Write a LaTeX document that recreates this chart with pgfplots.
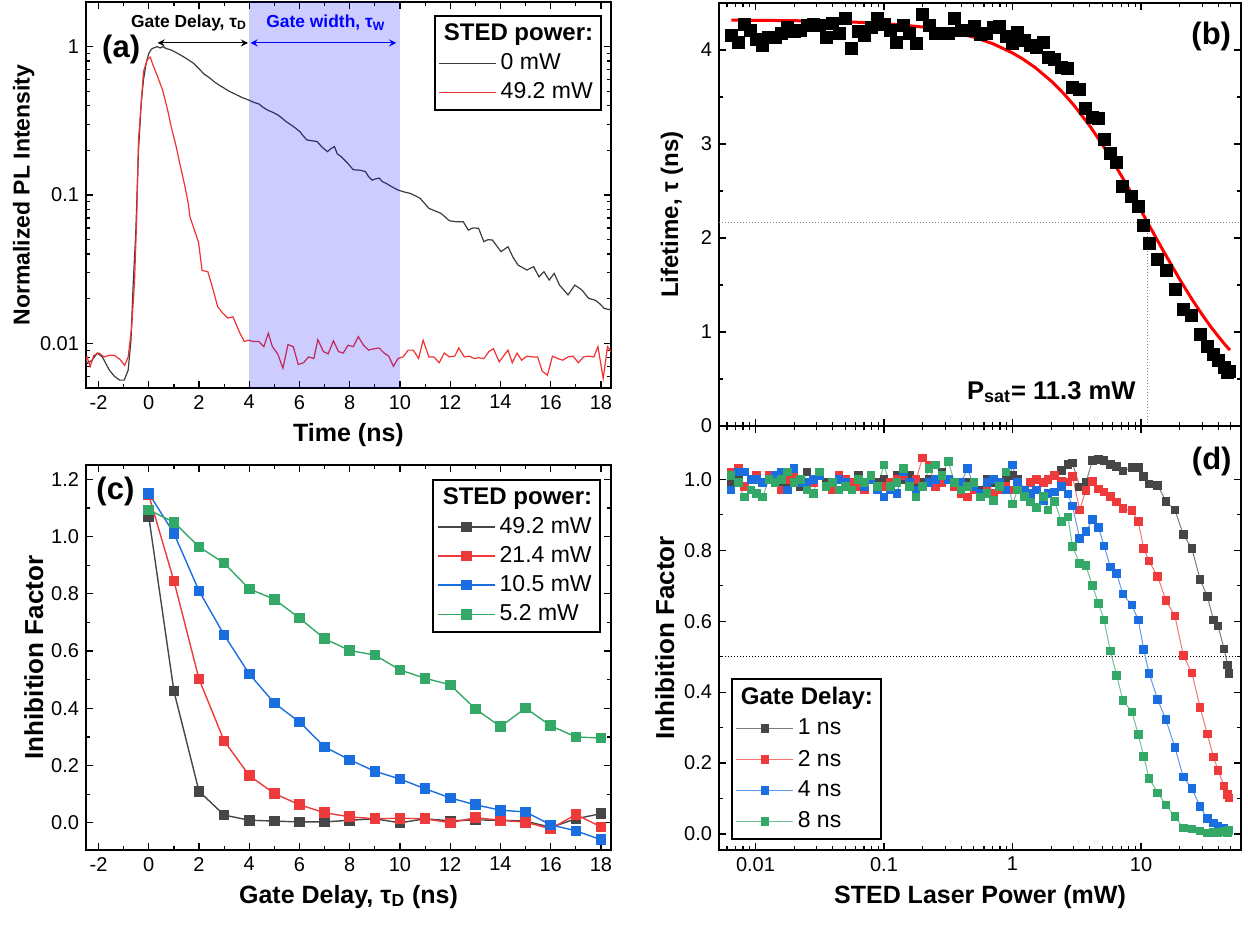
\documentclass[border=0pt]{standalone}
\usepackage{pgfplots}
\pgfplotsset{compat=1.18}
\usepackage{pgfplotstable}
\usepackage{fontspec}
\setmainfont{Liberation Sans}
\definecolor{cblk}{RGB}{70,70,70}
\definecolor{cred}{RGB}{238,58,58}
\definecolor{cblu}{RGB}{26,110,224}
\definecolor{cgrn}{RGB}{52,168,102}
\definecolor{ared}{RGB}{240,50,50}
\definecolor{ablk}{RGB}{60,60,60}
\newcommand{\tickfont}{\fontsize{10}{12}\selectfont}
\newcommand{\legfont}{\fontsize{11.5}{13.5}\selectfont}
\newcommand{\legtitle}{\bfseries\fontsize{12}{14}\selectfont}
\newcommand{\panfont}{\bfseries\fontsize{15.5}{18}\selectfont}

\pgfplotstableread{
P tau d1 d2 d4 d8
0.00646 4.154 0.99 1.02 0.97 1.01
0.00735 4.083 1.01 1.03 1.02 0.99
0.00818 4.270 0.98 0.98 1.02 0.95
0.00920 4.213 1.00 1.00 1.00 0.97
0.01014 4.108 1.00 1.01 1.00 0.96
0.01138 4.048 0.99 0.99 0.99 0.95
0.01271 4.129 1.00 1.01 1.00 1.00
0.01416 4.136 1.01 1.00 1.01 0.99
0.01589 4.178 0.99 0.97 1.02 1.00
0.01774 4.242 0.98 1.00 0.97 1.02
0.01995 4.200 1.00 1.01 1.03 0.99
0.02239 4.207 0.98 1.00 0.99 1.00
0.02512 4.260 1.02 0.98 0.99 0.97
0.02818 4.270 0.99 0.99 1.00 0.96
0.03162 4.260 1.01 1.01 1.01 1.02
0.03548 4.136 0.99 0.98 0.98 0.98
0.03981 4.278 0.99 0.97 0.99 0.99
0.04467 4.172 1.00 1.01 1.00 0.97
0.05012 4.331 1.00 1.00 0.99 0.98
0.05623 4.019 0.98 0.99 0.97 0.97
0.06310 4.200 1.01 0.98 1.00 1.00
0.07079 4.154 0.99 0.97 0.98 0.99
0.07943 4.240 1.00 1.00 1.00 1.01
0.08913 4.331 0.99 0.98 0.97 0.98
0.1000 4.270 1.00 0.98 0.95 1.04
0.1122 4.213 0.98 0.99 0.97 0.98
0.1259 4.083 1.01 1.00 0.96 0.99
0.1413 4.260 1.00 1.01 1.02 1.03
0.1585 4.172 1.01 0.99 0.99 0.98
0.1778 4.066 0.98 1.00 0.97 0.95
0.1995 4.377 0.99 1.06 0.98 0.98
0.2239 4.260 1.00 1.04 0.99 1.03
0.2512 4.172 0.99 0.98 1.00 1.04
0.2818 4.172 1.02 0.99 1.01 1.01
0.3162 4.172 1.00 1.00 1.00 1.05
0.3548 4.331 0.98 0.98 0.99 0.99
0.3981 4.207 0.97 0.96 0.99 0.97
0.4467 4.213 0.99 0.95 1.03 0.98
0.5012 4.249 0.98 0.97 0.98 0.99
0.5623 4.164 0.97 0.96 0.96 0.95
0.6310 4.172 1.00 0.98 0.99 0.96
0.7079 4.240 0.99 0.96 1.00 0.94
0.7943 4.250 0.98 0.97 0.99 0.98
0.8913 4.143 1.00 0.98 0.97 1.02
1.000 4.066 1.01 0.97 1.04 0.93
1.096 4.189 1.00 0.99 0.99 0.97
1.245 4.100 0.97 0.97 0.97 0.952
1.380 4.048 0.99 0.99 0.96 0.936
1.542 4.030 1.00 1.00 0.97 0.920
1.750 4.083 0.99 0.99 0.94 0.952
1.892 3.917 1.00 1.00 0.96 0.913
2.123 3.896 1.01 1.011 0.964 0.938
2.415 3.818 1.025 0.995 0.980 0.880
2.698 3.800 1.041 0.992 0.958 0.894
2.931 3.600 1.046 1.008 0.924 0.811
3.334 3.578 0.978 0.913 0.833 0.762
3.724 3.376 0.990 0.969 0.852 0.756
4.178 3.287 1.052 0.994 0.886 0.701
4.667 3.270 1.055 0.972 0.864 0.650
5.164 3.048 1.052 0.964 0.812 0.603
5.768 2.899 1.041 0.952 0.753 0.516
6.471 2.804 1.035 0.936 0.734 0.447
7.228 2.553 1.023 0.917 0.676 0.377
8.492 2.446 1.033 0.911 0.645 0.344
9.528 2.333 1.033 0.880 0.603 0.280
10.50 2.139 1.008 0.805 0.520 0.219
11.56 1.945 0.986 0.769 0.453 0.156
13.49 1.775 0.983 0.725 0.379 0.116
15.63 1.651 0.938 0.659 0.322 0.082
18.37 1.457 0.913 0.614 0.244 0.049
21.33 1.245 0.844 0.504 0.161 0.017
24.89 1.174 0.805 0.454 0.128 0.014
28.84 0.972 0.717 0.357 0.078 0.008
32.81 0.848 0.670 0.282 0.043 0.003
36.64 0.760 0.603 0.217 0.031 0.005
39.81 0.700 0.586 0.179 0.022 0.005
44.36 0.619 0.521 0.135 0.015 0.007
47.32 0.566 0.476 0.112 nan 0.004
48.31 0.580 0.453 0.102 nan 0.010
}\dtab

\pgfplotstableread{
x k r b g
0 1.069 1.145 1.151 1.093
1 0.460 0.845 1.011 1.050
2 0.110 0.502 0.810 0.964
3 0.027 0.286 0.656 0.907
4 0.009 0.165 0.520 0.817
5 0.006 0.102 0.418 0.781
6 0.003 0.063 0.352 0.715
7 0.003 0.035 0.265 0.643
8 0.009 0.021 0.220 0.602
9 0.014 0.014 0.180 0.586
10 0.000 0.016 0.153 0.534
11 0.014 0.014 0.119 0.505
12 0.007 0.000 0.087 0.482
13 0.010 0.018 0.063 0.398
14 0.009 0.009 0.044 0.336
15 0.006 0.002 0.038 0.401
16 -0.016 -0.021 -0.007 0.339
17 0.014 0.029 -0.028 0.300
18 0.032 -0.014 -0.059 0.296
}\ctab

\pgfplotsset{
  myaxis/.style={
    scale only axis,
    anchor=south west,
    tick align=inside,
    major tick length=3.5pt,
    minor tick length=2pt,
    every tick/.style={black, line width=0.6pt},
    axis line style={line width=0.8pt},
    ticklabel style={font=\tickfont},
    /pgf/number format/assume math mode=true,
    xlabel style={font=\bfseries\fontsize{12.5}{15}\selectfont},
    ylabel style={font=\bfseries\fontsize{13}{15}\selectfont},
    legend cell align=left,
    legend style={draw=black, line width=0.9pt, fill=white, font=\legfont,
      inner xsep=2pt, inner ysep=2pt, row sep=1pt},
    legend image code/.code={\draw[mark repeat=2,mark phase=2,##1] plot coordinates {(0cm,0cm) (0.5cm,0cm) (1cm,0cm)};},
  },
}

\begin{document}
\begin{tikzpicture}
\useasboundingbox (0,0) rectangle (624pt,463pt);

% ---------------- (a)
\begin{axis}[myaxis, at={(43pt,269pt)}, width=262.5pt, height=193pt,
  xmin=-2.5, xmax=18.4, ymode=log, ymin=0.005, ymax=2,
  xtick={-2,0,2,4,6,8,10,12,14,16,18}, minor x tick num=1,
  log ticks with fixed point,
  xlabel={Time (ns)}, ylabel={Normalized PL Intensity},
  ylabel style={font=\bfseries\fontsize{11.5}{13}\selectfont},
  ylabel shift=-4pt,
  legend style={at={(0.983,0.966)}, anchor=north east},
]
\addlegendimage{empty legend}\addlegendentry{\hspace*{-1cm}\legtitle STED power:}
\addplot[ablk, line width=0.6pt] coordinates {
(-2.5,0.0080) (-2.46,0.0073) (-2.26,0.0077) (-2.05,0.0086) (-1.85,0.0081) (-1.57,0.0066)
(-1.37,0.0060) (-1.16,0.00565) (-0.98,0.00565) (-0.82,0.0066) (-0.71,0.0105) (-0.62,0.0255)
(-0.52,0.055) (-0.41,0.2) (-0.3,0.42) (-0.21,0.60) (-0.1,0.78) (0.0,0.9) (0.1,0.96)
(0.16,0.975) (0.34,1.0) (0.45,0.98) (0.55,1.0) (0.7,0.97) (0.89,0.95) (1.1,0.91)
(1.37,0.857) (1.6,0.81) (1.78,0.773) (2.0,0.71) (2.19,0.655) (2.4,0.62) (2.6,0.581)
(2.8,0.55) (3.01,0.524) (3.2,0.50) (3.42,0.48) (3.7,0.455) (3.97,0.437) (4.2,0.42)
(4.38,0.411) (4.55,0.39) (4.72,0.374) (4.95,0.36) (5.13,0.347) (5.3,0.33) (5.47,0.312)
(5.75,0.29) (6.02,0.267) (6.15,0.25) (6.29,0.235) (6.5,0.232) (6.7,0.229) (6.9,0.21)
(7.11,0.196) (7.25,0.205) (7.39,0.212) (7.5,0.19) (7.66,0.181) (7.9,0.165) (8.14,0.148)
(8.4,0.147) (8.62,0.144) (8.75,0.133) (8.89,0.126) (9.0,0.128) (9.17,0.13) (9.3,0.123)
(9.44,0.12) (9.7,0.113) (9.92,0.108) (10.15,0.105) (10.4,0.1026) (10.6,0.099)
(10.8,0.095) (11.15,0.0813) (11.4,0.078) (11.63,0.0753) (11.97,0.067) (12.25,0.066)
(12.52,0.066) (12.72,0.058) (12.9,0.060) (13.13,0.0596) (13.34,0.0484) (13.5,0.050)
(13.68,0.0497) (14.02,0.0415) (14.3,0.0448) (14.5,0.038) (14.7,0.0337) (15.05,0.0312)
(15.32,0.0329) (15.53,0.0281) (15.73,0.0304) (15.94,0.0267) (16.14,0.0296) (16.35,0.0247)
(16.69,0.0212) (16.96,0.0247) (17.24,0.0229) (17.51,0.0201) (17.78,0.0195) (17.95,0.0185)
(18.13,0.0172) (18.4,0.0168)
};
\addlegendentry{0 mW}
\addplot[ared, line width=0.6pt] coordinates {
(-2.5,0.0078) (-2.46,0.0081) (-2.33,0.0070) (-2.19,0.0083) (-1.98,0.0086) (-1.78,0.0081)
(-1.57,0.0083) (-1.37,0.0083) (-1.15,0.0078) (-0.96,0.0071) (-0.82,0.0081) (-0.68,0.013)
(-0.57,0.0255) (-0.48,0.071) (-0.41,0.235) (-0.21,0.68) (-0.07,0.81) (0.0,0.835)
(0.06,0.85) (0.14,0.773) (0.3,0.66) (0.55,0.51) (0.75,0.374) (0.89,0.289) (1.09,0.212)
(1.23,0.164) (1.44,0.114) (1.57,0.088) (1.64,0.071) (1.98,0.048) (2.12,0.031) (2.35,0.0304)
(2.53,0.024) (2.74,0.0177) (2.94,0.016) (3.15,0.0148) (3.35,0.0151) (3.63,0.0117)
(3.8,0.0103) (3.97,0.0105) (4.17,0.0103) (4.38,0.0103) (4.58,0.0095) (4.76,0.0117)
(4.92,0.0095) (5.13,0.0085) (5.34,0.0068) (5.54,0.0098) (5.75,0.0095) (5.95,0.0072)
(6.16,0.0074) (6.36,0.0081) (6.57,0.0079) (6.73,0.0106) (6.95,0.0088) (7.14,0.0085)
(7.35,0.0104) (7.55,0.0088) (7.74,0.0086) (7.93,0.0097) (8.14,0.0095) (8.34,0.0111)
(8.55,0.0097) (8.75,0.009) (8.96,0.0092) (9.17,0.0093) (9.37,0.0086) (9.55,0.0082)
(9.74,0.0070) (9.92,0.0079) (10.12,0.0081) (10.33,0.009) (10.53,0.009) (10.74,0.0079)
(10.92,0.0105) (11.15,0.0081) (11.35,0.0081) (11.56,0.0074) (11.76,0.0086) (11.97,0.0081)
(12.18,0.0082) (12.34,0.0093) (12.56,0.0081) (12.75,0.0082) (12.96,0.0079) (13.13,0.008)
(13.34,0.0079) (13.54,0.0088) (13.72,0.0092) (13.95,0.0075) (14.12,0.0082) (14.3,0.009)
(14.47,0.0074) (14.66,0.0086) (14.84,0.0077) (15.05,0.0082) (15.29,0.0081) (15.48,0.0081)
(15.66,0.0065) (15.87,0.0061) (16.07,0.0082) (16.28,0.0079) (16.48,0.0077) (16.69,0.0081)
(16.89,0.0082) (17.1,0.0074) (17.31,0.0081) (17.51,0.0082) (17.72,0.0081) (17.88,0.0095)
(18.09,0.0058) (18.26,0.0095) (18.4,0.0088)
};
\addlegendentry{49.2 mW}
\fill[blue, opacity=0.2] (axis cs:4,0.005) rectangle (axis cs:10,2);
\draw[<->, >=stealth, line width=0.6pt] (axis cs:0.35,1.06) -- (axis cs:3.95,1.06);
\draw[<->, >=stealth, line width=0.6pt, blue] (axis cs:4.05,1.06) -- (axis cs:9.85,1.06);
\node[font=\bfseries\fontsize{8.7}{10}\selectfont] at (axis cs:1.6,1.445) {Gate Delay, τ\textsubscript{D}};
\node[font=\bfseries\fontsize{8.7}{10}\selectfont, text=blue] at (axis cs:7.05,1.445) {Gate width, τ\textsubscript{W}};
\node[font=\panfont] at (rel axis cs:0.067,0.876) {(a)};
\end{axis}

% ---------------- (b)
\begin{axis}[myaxis, at={(359.5pt,250pt)}, width=261pt, height=211.5pt,
  xmode=log, xmin=0.0052, xmax=60, ymin=0, ymax=4.5,
  ytick={0,1,2,3,4}, minor y tick num=1, xticklabels={},
  ylabel={Lifetime, τ (ns)},
  ylabel style={font=\bfseries\fontsize{12}{14}\selectfont},
  ylabel shift=2pt,
]
\draw[densely dotted, gray, line width=0.5pt] (axis cs:0.0052,2.163) -- (axis cs:60,2.163);
\draw[densely dotted, gray, line width=0.5pt] (axis cs:11.3,0) -- (axis cs:11.3,2.163);
\addplot[only marks, mark=square*, mark size=3pt, black] table[x=P, y=tau] {\dtab};
\addplot[red, line width=1.5pt] coordinates {
(0.0065,4.317) (0.01,4.316) (0.02,4.312) (0.05,4.301) (0.1,4.282) (0.2,4.245) (0.3,4.208)
(0.5,4.137) (0.7,4.068) (1,3.969) (1.2,3.905) (1.5,3.814) (2,3.670) (2.5,3.537) (3,3.414)
(4,3.191) (5,2.995) (6,2.822) (7,2.667) (8,2.529) (9,2.405) (10,2.292) (12,2.095)
(15,1.857) (20,1.560) (25,1.345) (30,1.182) (35,1.054) (40,0.952) (45,0.867) (49.2,0.807)
};
\node[anchor=east, font=\bfseries\fontsize{12.8}{15}\selectfont] at (axis cs:10.3,0.36) {P\textsubscript{sat}= 11.3 mW};
\node[font=\panfont] at (rel axis cs:0.943,0.92) {(b)};
\end{axis}

% ---------------- (c)
\begin{axis}[myaxis, at={(43pt,38pt)}, width=262.5pt, height=192.5pt,
  xmin=-2.5, xmax=18.4, ymin=-0.095, ymax=1.25,
  xtick={-2,0,2,4,6,8,10,12,14,16,18}, minor x tick num=1,
  ytick={0,0.2,0.4,0.6,0.8,1.0,1.2}, minor y tick num=1,
  yticklabel style={/pgf/number format/.cd, fixed, fixed zerofill, precision=1},
  xlabel={Gate Delay, τ\textsubscript{D} (ns)}, ylabel={Inhibition Factor},
  ylabel shift=-3pt,
  legend style={at={(0.981,0.964)}, anchor=north east},
]
\addlegendimage{empty legend}\addlegendentry{\hspace*{-1cm}\legtitle STED power:}
\addplot[cblk, line width=0.7pt, mark=square*, mark size=2.3pt, mark options={solid, fill=cblk}] table[x=x, y=k] {\ctab};
\addlegendentry{49.2 mW}
\addplot[cred, line width=0.7pt, mark=square*, mark size=2.3pt, mark options={solid, fill=cred}] table[x=x, y=r] {\ctab};
\addlegendentry{21.4 mW}
\addplot[cblu, line width=0.7pt, mark=square*, mark size=2.3pt, mark options={solid, fill=cblu}] table[x=x, y=b] {\ctab};
\addlegendentry{10.5 mW}
\addplot[cgrn, line width=0.7pt, mark=square*, mark size=2.3pt, mark options={solid, fill=cgrn}] table[x=x, y=g] {\ctab};
\addlegendentry{5.2 mW}
\node[font=\panfont] at (rel axis cs:0.056,0.93) {(c)};
\end{axis}

% ---------------- (d)
\begin{axis}[myaxis, at={(359.5pt,38pt)}, width=261pt, height=212pt,
  xmode=log, xmin=0.0052, xmax=60, ymin=-0.045, ymax=1.15,
  log ticks with fixed point,
  ytick={0,0.2,0.4,0.6,0.8,1.0}, minor y tick num=1,
  yticklabel style={/pgf/number format/.cd, fixed, fixed zerofill, precision=1},
  xlabel={STED Laser Power (mW)}, ylabel={Inhibition Factor},
  ylabel shift=-2pt,
  legend style={at={(0.023,0.024)}, anchor=south west, row sep=2pt},
]
\draw[densely dotted, black, line width=0.5pt] (axis cs:0.0052,0.5) -- (axis cs:60,0.5);
\addlegendimage{empty legend}\addlegendentry{\hspace*{-1cm}\legtitle Gate Delay:}
\addplot[cblk!70, line width=0.5pt, mark=square*, mark size=1.9pt, mark options={solid, fill=cblk, draw=cblk}] table[x=P, y=d1] {\dtab};
\addlegendentry{1 ns}
\addplot[cred!70, line width=0.5pt, mark=square*, mark size=1.9pt, mark options={solid, fill=cred, draw=cred}] table[x=P, y=d2] {\dtab};
\addlegendentry{2 ns}
\addplot[cblu!70, line width=0.5pt, mark=square*, mark size=1.9pt, mark options={solid, fill=cblu, draw=cblu}] table[x=P, y=d4] {\dtab};
\addlegendentry{4 ns}
\addplot[cgrn!70, line width=0.5pt, mark=square*, mark size=1.9pt, mark options={solid, fill=cgrn, draw=cgrn}] table[x=P, y=d8] {\dtab};
\addlegendentry{8 ns}
\node[font=\panfont] at (rel axis cs:0.944,0.916) {(d)};
\end{axis}
\end{tikzpicture}
\end{document}
